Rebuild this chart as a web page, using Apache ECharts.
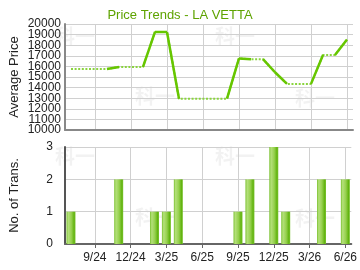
<!DOCTYPE html>
<html>
<head>
<meta charset="utf-8">
<script src="https://cdn.jsdelivr.net/npm/echarts@6/dist/echarts.min.js"></script>
<style>
    html, body { margin: 0; padding: 0; background: #fff; }
    #Root { width: 360px; height: 270px; }
</style>
</head>
<body>
<div id="Root"></div>
<script>
// months on the x axis (one category each)
const months = ['7/24', '8/24', '9/24', '10/24', '11/24', '12/24',
    '1/25', '2/25', '3/25', '4/25', '5/25', '6/25',
    '7/25', '8/25', '9/25', '10/25', '11/25', '12/25',
    '1/26', '2/26', '3/26', '4/26', '5/26', '6/26']
// labels that are shown under the lower chart
const tickLabels = ['9/24', '12/24', '3/25', '6/25', '9/25', '12/25', '3/26', '6/26']
// price axis labels
const priceTicks = ['10000', '11000', '12000', '13000', '14000', '15000',
    '16000', '17000', '18000', '19000', '20000']
// average price per month
const avgPrice = [15750, 15750, 15750, 15750, 15950, 15950,
    15950, 19250, 19250, 12950, 12950, 12950,
    12950, 12950, 16750, 16680, 16680, 15450,
    14350, 14350, 14350, 17080, 17080, 18530]
// number of transactions per month
const transCount = [1, 0, 0, 0, 2, 0,
    0, 1, 1, 2, 0, 0,
    0, 0, 1, 2, 0, 3,
    1, 0, 0, 2, 0, 2]

const lineGreen = '#66c600'
const dotGreen = '#8ad43e'

let showIdx = (i) => tickLabels.indexOf(months[i]) >= 0

// solid pieces: every step into a month with transactions
let solidSeries = []
for (let i = 1; i < months.length; i++) {
    if (transCount[i] > 0) {
        let d = months.map(() => null)
        d[i - 1] = avgPrice[i - 1]
        d[i] = avgPrice[i]
        solidSeries.push({
            type: 'line',
            xAxisIndex: 0,
            yAxisIndex: 0,
            data: d,
            symbol: 'none',
            z: 3,
            lineStyle: { color: lineGreen, width: 2.5 },
            silent: true
        })
    }
}

const axisFont = { fontFamily: 'Liberation Sans, Arial, sans-serif', fontSize: 12, color: '#222' }

let chart = echarts.init(document.getElementById('Root'), null, { renderer: 'canvas' })

let wm = []
const wmPos = [[55, 26], [135, 86], [215, 26], [295, 88], [55, 146], [135, 207], [215, 146], [295, 208]]
wmPos.forEach(p => {
    wm.push({
        type: 'text', left: p[0], top: p[1], z: -10, silent: true,
        style: { text: '科一', fill: 'rgba(0,0,0,0.05)', font: 'bold 20px "Noto Sans CJK SC"' }
    })
})

let option = {
    animation: false,
    backgroundColor: '#fff',
    title: {
        text: 'Price Trends - LA VETTA',
        left: 'center',
        top: 4,
        textStyle: { color: '#5ea300', fontSize: 13, fontWeight: 'normal', fontFamily: 'Liberation Sans, Arial, sans-serif' }
    },
    graphic: wm,
    grid: [
        { left: 65, top: 24, width: 288, height: 106 },
        { left: 65, top: 147, width: 288, height: 97 }
    ],
    xAxis: [
        {
            type: 'category', gridIndex: 0, data: months, boundaryGap: true,
            axisLine: { lineStyle: { color: '#888', width: 2 } },
            axisTick: { show: false },
            axisLabel: { show: false },
            splitLine: { show: true, interval: showIdx, alignWithLabel: true, lineStyle: { color: '#d0d0d0' } }
        },
        {
            type: 'category', gridIndex: 1, data: months, boundaryGap: true,
            axisLine: { lineStyle: { color: '#666', width: 2 } },
            axisTick: { show: true, interval: showIdx, alignWithLabel: true, length: 4, lineStyle: { color: '#666' } },
            axisLabel: Object.assign({ interval: showIdx, margin: 8 }, axisFont),
            splitLine: { show: true, interval: showIdx, alignWithLabel: true, lineStyle: { color: '#d0d0d0' } }
        }
    ],
    yAxis: [
        {
            type: 'value', gridIndex: 0, min: 10000, max: 20000, interval: 1000,
            name: 'Average Price', nameLocation: 'middle', nameGap: 44, nameRotate: 90,
            nameTextStyle: { fontFamily: 'Liberation Sans, Arial, sans-serif', fontSize: 13, color: '#222' },
            axisLine: { show: true, lineStyle: { color: '#888', width: 2 } },
            axisTick: { show: false },
            axisLabel: { show: false },
            splitLine: { lineStyle: { color: '#d0d0d0' } }
        },
        {
            type: 'value', gridIndex: 1, min: 0, max: 3, interval: 1,
            name: 'No. of Trans.', nameLocation: 'middle', nameGap: 44, nameRotate: 90,
            nameTextStyle: { fontFamily: 'Liberation Sans, Arial, sans-serif', fontSize: 13, color: '#222' },
            axisLine: { show: true, lineStyle: { color: '#555', width: 2 } },
            axisTick: { show: false },
            axisLabel: Object.assign({ margin: 12 }, axisFont),
            splitLine: { lineStyle: { color: '#d0d0d0' } }
        },
        {
            // label-only axis so every price tick is printed
            type: 'category', gridIndex: 0, data: priceTicks, boundaryGap: false,
            position: 'left',
            axisLine: { show: false },
            axisTick: { show: false },
            splitLine: { show: false },
            axisLabel: Object.assign({ interval: 0, margin: 4 }, axisFont)
        }
    ],
    series: [
        {
            type: 'line',
            xAxisIndex: 0,
            yAxisIndex: 0,
            data: avgPrice,
            symbol: 'none',
            z: 2,
            lineStyle: { color: dotGreen, width: 2, type: [2, 1.6] },
            silent: true
        },
        ...solidSeries,
        {
            type: 'bar',
            xAxisIndex: 1,
            yAxisIndex: 1,
            data: transCount,
            barWidth: 9,
            silent: true,
            itemStyle: {
                color: new echarts.graphic.LinearGradient(0, 0, 1, 0, [
                    { offset: 0, color: '#7cc232' },
                    { offset: 0.2, color: '#b4e07a' },
                    { offset: 0.55, color: '#96d04e' },
                    { offset: 0.85, color: '#62b410' },
                    { offset: 1, color: '#7cc232' }
                ])
            }
        }
    ]
}

chart.setOption(option)
</script>
</body>
</html>
